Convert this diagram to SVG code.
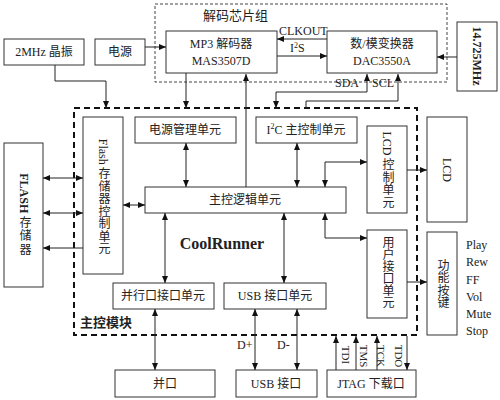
<svg xmlns="http://www.w3.org/2000/svg" width="500" height="400" viewBox="0 0 500 400">
<style>
.b{fill:#fff;stroke:#333;stroke-width:1}
.t{font-family:"Liberation Serif","Noto Sans CJK SC",serif;font-size:12px;fill:#222}
.c{text-anchor:middle;dominant-baseline:central}
.v{writing-mode:vertical-rl;text-anchor:middle}
.ln{fill:none;stroke:#222;stroke-width:1}
.be{marker-end:url(#a)}
.bb{marker-start:url(#a);marker-end:url(#a)}
.d1{fill:none;stroke:#444;stroke-width:1;stroke-dasharray:3 2}
.d2{fill:none;stroke:#111;stroke-width:2;stroke-dasharray:6 4}
</style>
<defs>
<marker id="a" markerWidth="7" markerHeight="6" refX="7" refY="3" orient="auto-start-reverse" markerUnits="userSpaceOnUse"><path d="M0,0 L7,3 L0,6 z" fill="#111"/></marker>
</defs>
<rect fill="#fff" width="500" height="400"/>
<g id="decoder-group"><rect class="d1" x="155" y="4" width="292" height="78"/><text class="t" x="203" y="20" style="font-size:13px">解码芯片组</text></g>
<g id="main-module"><rect class="d2" x="74" y="108" width="343" height="227"/><text class="t" x="80" y="327" style="font-size:13px;font-weight:bold">主控模块</text><text class="t c" x="222" y="243" style="font-size:16px;font-weight:bold">CoolRunner</text></g>
<g id="osc2"><rect class="b" x="4" y="39" width="80" height="26"/><text class="t c" x="44" y="52">2MHz 晶振</text></g>
<g id="power"><rect class="b" x="95" y="39" width="50" height="26"/><text class="t c" x="120" y="52">电源</text></g>
<g id="mp3"><rect class="b" x="166" y="31" width="111" height="42"/><text class="t c" x="221" y="44">MP3 解码器</text><text class="t c" x="221" y="61">MAS3507D</text></g>
<g id="dac"><rect class="b" x="327" y="31" width="110" height="42"/><text class="t c" x="382" y="44">数/模变换器</text><text class="t c" x="382" y="61">DAC3550A</text></g>
<g id="osc14"><rect class="b" x="457" y="22" width="40" height="69"/><text class="t c" transform="translate(477,56) rotate(90)" style="font-weight:bold">14.725MHz</text></g>
<g id="flash"><rect class="b" x="4" y="143" width="39" height="144"/><text class="t v" x="24" y="215"><tspan style="font-weight:bold">FLASH</tspan> <tspan style="letter-spacing:1.5px">存储器</tspan></text></g>
<g id="flash-ctrl"><rect class="b" x="83" y="117" width="40" height="157"/><text class="t v" x="103" y="197">Flash <tspan style="letter-spacing:0.5px">存储器控制单元</tspan></text></g>
<g id="pwr-mgmt"><rect class="b" x="135" y="117" width="101" height="26"/><text class="t c" x="185" y="130">电源管理单元</text></g>
<g id="i2c"><rect class="b" x="256" y="117" width="101" height="26"/><text class="t c" x="306" y="130">I<tspan dy="-4" style="font-size:8px">2</tspan><tspan dy="4">C 主控制单元</tspan></text></g>
<g id="logic"><rect class="b" x="145" y="187" width="201" height="26"/><text class="t c" x="245" y="200">主控逻辑单元</text></g>
<g id="lcd-ctrl"><rect class="b" x="367" y="126" width="40" height="87"/><text class="t v" x="387" y="170">LCD <tspan style="letter-spacing:0.5px">控制单元</tspan></text></g>
<g id="lcd"><rect class="b" x="427" y="117" width="40" height="105"/><text class="t c" transform="translate(447,170) rotate(90)">LCD</text></g>
<g id="user-if"><rect class="b" x="367" y="230" width="40" height="88"/><text class="t v" x="387" y="272">用户接口单元</text></g>
<g id="keys"><rect class="b" x="427" y="232" width="30" height="103"/><text class="t v" x="442" y="284" style="letter-spacing:0.3px">功能按键</text><text class="t"><tspan x="466" y="249">Play</tspan><tspan x="466" y="266">Rew</tspan><tspan x="466" y="284">FF</tspan><tspan x="466" y="301">Vol</tspan><tspan x="466" y="318">Mute</tspan><tspan x="466" y="335">Stop</tspan></text></g>
<g id="par-if"><rect class="b" x="113" y="283" width="101" height="26"/><text class="t c" x="163" y="296">并行口接口单元</text></g>
<g id="usb-if"><rect class="b" x="224" y="283" width="102" height="26"/><text class="t c" x="275" y="296">USB 接口单元</text></g>
<g id="par-port"><rect class="b" x="115" y="370" width="100" height="27"/><text class="t c" x="165" y="384">并口</text></g>
<g id="usb-port"><rect class="b" x="236" y="370" width="81" height="27"/><text class="t c" x="276" y="384">USB 接口</text></g>
<g id="jtag"><rect class="b" x="327" y="370" width="89" height="27"/><text class="t c" x="371" y="384">JTAG 下载口</text></g>
<g id="connectors">
<line class="ln be" x1="145" y1="47" x2="166" y2="47"/>
<line class="ln be" x1="457" y1="57" x2="437" y2="57"/>
<line class="ln be" x1="327" y1="39" x2="277" y2="39"/>
<line class="ln be" x1="277" y1="56" x2="327" y2="56"/>
<path class="ln be" d="M55,65 V81 H106 V108"/>
<path class="ln be" d="M186,73 V108"/>
<path class="ln be" d="M246,187 V74"/>
<path class="ln bb" d="M276,108 V92 H367 V74"/>
<path class="ln be" d="M306,108 V101 H398 V74"/>
<line class="ln bb" x1="43" y1="178" x2="83" y2="178"/>
<line class="ln bb" x1="43" y1="213" x2="83" y2="213"/>
<line class="ln be" x1="83" y1="248" x2="43" y2="248"/>
<line class="ln bb" x1="123" y1="205" x2="145" y2="205"/>
<line class="ln bb" x1="186" y1="143" x2="186" y2="187"/>
<line class="ln bb" x1="297" y1="143" x2="297" y2="187"/>
<path class="ln bb" d="M325,187 V162 H367"/>
<line class="ln be" x1="407" y1="170" x2="427" y2="170"/>
<path class="ln bb" d="M325,213 V238 H367"/>
<line class="ln be" x1="407" y1="282" x2="427" y2="282"/>
<line class="ln bb" x1="165" y1="213" x2="165" y2="283"/>
<line class="ln bb" x1="284" y1="213" x2="284" y2="283"/>
<line class="ln bb" x1="155" y1="309" x2="155" y2="370"/>
<line class="ln bb" x1="255" y1="309" x2="255" y2="370"/>
<line class="ln bb" x1="297" y1="309" x2="297" y2="370"/>
<line class="ln be" x1="336" y1="370" x2="336" y2="336"/>
<line class="ln be" x1="356" y1="370" x2="356" y2="336"/>
<line class="ln be" x1="377" y1="370" x2="377" y2="336"/>
<line class="ln be" x1="407" y1="336" x2="407" y2="370"/>
<text class="t" x="279" y="35">CLKOUT</text>
<text class="t" x="290" y="52">I<tspan dy="-4" style="font-size:8px">2</tspan><tspan dy="4">S</tspan></text>
<text class="t" x="335" y="87">SDA</text>
<text class="t" x="372" y="87">SCL</text>
<text class="t" x="237" y="349">D+</text>
<text class="t" x="277" y="349">D-</text>
<text class="t c" transform="translate(346,355) rotate(90)" style="font-size:11px">TDI</text>
<text class="t c" transform="translate(364,356) rotate(90)" style="font-size:11px">TMS</text>
<text class="t c" transform="translate(381,356) rotate(90)" style="font-size:11px">TCK</text>
<text class="t c" transform="translate(399,356) rotate(90)" style="font-size:11px">TDO</text>
</g>
</svg>
